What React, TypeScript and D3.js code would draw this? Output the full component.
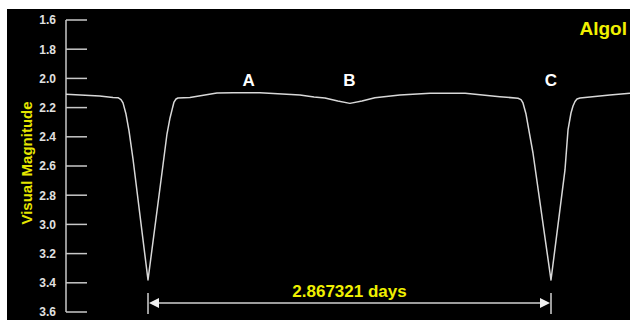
import React from "react";
import * as d3 from "d3";

const phases = [
  -0.2035, -0.12, -0.087, -0.0744, -0.067, -0.062, -0.0546, -0.0471, -0.0372, 0,
  0.0372, 0.0471, 0.0546, 0.0596, 0.0645, 0.0695, 0.0744, 0.104,
  0.171, 0.211, 0.278, 0.377, 0.412, 0.439, 0.471, 0.501, 0.531, 0.563, 0.625, 0.70, 0.787, 0.873,
  0.9181, 0.9256, 0.9305, 0.938, 0.9454, 0.9553, 1.0,
  1.0347, 1.0422, 1.0496, 1.0546, 1.0596, 1.0645, 1.072, 1.0968, 1.146, 1.196,
];
const magnitudes = [
  2.109, 2.121, 2.131, 2.132, 2.145, 2.168, 2.244, 2.36, 2.552, 3.381,
  2.593, 2.381, 2.271, 2.216, 2.162, 2.141, 2.134, 2.131,
  2.1, 2.098, 2.098, 2.114, 2.127, 2.134, 2.155, 2.171, 2.155, 2.132, 2.114, 2.102, 2.102, 2.125,
  2.136, 2.145, 2.168, 2.244, 2.36, 2.511, 3.381,
  2.627, 2.353, 2.237, 2.189, 2.158, 2.141, 2.134, 2.127, 2.114, 2.102,
];
const yTicks = [1.6, 1.8, 2.0, 2.2, 2.4, 2.6, 2.8, 3.0, 3.2, 3.4, 3.6];
const eventLabels = ["A", "B", "C"];
const eventPhases = [0.25, 0.5, 1.0];
const periodLabel = "2.867321 days";
const starName = "Algol";
const yTitle = "Visual Magnitude";

export default function App() {
  const W = 630, H = 320;
  const x = d3.scaleLinear().domain([0, 1]).range([148, 551]);
  const y = d3.scaleLinear().domain([1.6, 3.6]).range([20, 312]);
  const line = d3.line<number>().x((d, i) => x(phases[i])).y((d) => y(d));
  const path = line(magnitudes) || "";
  const axisX = 66;
  const font = "'Liberation Sans', Arial, sans-serif";
  const arrowY = 303;
  const x0 = x(0), x1 = x(1);
  return (
    <svg width={W} height={H} style={{ position: "absolute", left: 0, top: 0, background: "#fff" }}>
      <rect x={7} y={9} width={W - 7} height={H - 9} fill="#000" />
      <line x1={axisX} x2={axisX} y1={y(1.6)} y2={y(3.6)} stroke="#c8c8c8" strokeWidth={1.5} />
      {yTicks.map((t) => (
        <g key={t}>
          <line x1={axisX} x2={axisX + 21} y1={y(t)} y2={y(t)} stroke="#c8c8c8" strokeWidth={1.5} />
          <text x={56} y={y(t)} dy="0.36em" textAnchor="end" fill="#e0e0e0" fontFamily={font} fontWeight="bold" fontSize={12}>
            {t.toFixed(1)}
          </text>
        </g>
      ))}
      <text transform={`translate(32,163) rotate(-90)`} textAnchor="middle" fill="#e6e600" fontFamily={font} fontWeight="bold" fontSize={15}>
        {yTitle}
      </text>
      <path d={path} fill="none" stroke="#d8d8d8" strokeWidth={1.5} strokeLinejoin="round" />
      {eventLabels.map((l, i) => (
        <text key={l} x={x(eventPhases[i])} y={86} textAnchor="middle" fill="#fff" fontFamily={font} fontWeight="bold" fontSize={17}>
          {l}
        </text>
      ))}
      <text x={627} y={35} textAnchor="end" fill="#f0f000" fontFamily={font} fontWeight="bold" fontSize={19}>
        {starName}
      </text>
      <line x1={x0} x2={x0} y1={293} y2={314} stroke="#d0d0d0" strokeWidth={1.5} />
      <line x1={x1} x2={x1} y1={293} y2={314} stroke="#d0d0d0" strokeWidth={1.5} />
      <line x1={x0 + 8} x2={x1 - 8} y1={arrowY} y2={arrowY} stroke="#d0d0d0" strokeWidth={1.5} />
      <path d={`M${x0 + 1},${arrowY} L${x0 + 11},${arrowY - 5} L${x0 + 11},${arrowY + 5} Z`} fill="#f0f0f0" />
      <path d={`M${x1 - 1},${arrowY} L${x1 - 11},${arrowY - 5} L${x1 - 11},${arrowY + 5} Z`} fill="#f0f0f0" />
      <text x={(x0 + x1) / 2} y={297} textAnchor="middle" fill="#f0f000" fontFamily={font} fontWeight="bold" fontSize={17}>
        {periodLabel}
      </text>
    </svg>
  );
}
